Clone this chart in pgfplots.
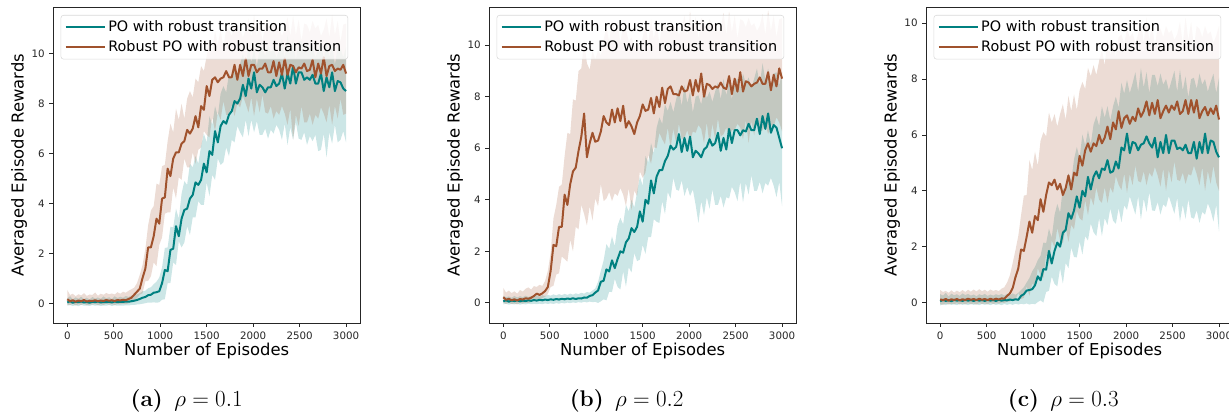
\documentclass[border=0pt]{standalone}
\usepackage{fontspec}
\setsansfont{DejaVu Sans}
\usepackage{pgfplots}
\usepackage{pgfplotstable}
\usepgfplotslibrary{fillbetween}
\pgfplotsset{compat=1.18}

\definecolor{tealc}{RGB}{0,128,128}
\definecolor{sienna}{RGB}{160,82,45}

% columns: episode, teal mean/low/high, sienna mean/low/high
\pgfplotstableread{
x tm tl th om ol oh
0 0.05 -0.08 0.22 0.18 -0.04 0.55
30 0.10 -0.05 0.30 0.10 -0.06 0.35
60 0.04 -0.09 0.18 0.14 0.00 0.40
90 0.08 -0.06 0.26 0.08 -0.07 0.30
120 0.06 -0.10 0.20 0.13 -0.02 0.38
150 0.09 -0.04 0.28 0.10 -0.05 0.33
180 0.05 -0.08 0.19 0.15 0.01 0.42
210 0.07 -0.07 0.24 0.09 -0.06 0.31
240 0.04 -0.09 0.17 0.12 -0.03 0.37
270 0.08 -0.05 0.27 0.11 -0.04 0.35
300 0.06 -0.08 0.21 0.14 -0.01 0.45
330 0.09 -0.06 0.25 0.10 -0.06 0.32
360 0.05 -0.09 0.20 0.13 -0.02 0.40
390 0.07 -0.07 0.29 0.11 -0.05 0.36
420 0.06 -0.08 0.22 0.15 0.00 0.43
450 0.08 -0.05 0.26 0.12 -0.04 0.38
480 0.05 -0.09 0.19 0.14 -0.02 0.41
510 0.09 -0.06 0.30 0.11 -0.05 0.37
540 0.06 -0.08 0.23 0.15 -0.01 0.46
570 0.08 -0.07 0.28 0.13 -0.03 0.40
600 0.07 -0.08 0.24 0.16 0.00 0.48
630 0.09 -0.06 0.31 0.14 -0.02 0.44
660 0.08 -0.07 0.27 0.19 0.02 0.52
690 0.10 -0.05 0.33 0.24 0.06 0.58
720 0.12 -0.05 0.30 0.36 0.14 0.64
750 0.15 -0.03 0.38 0.48 0.22 0.82
780 0.19 -0.02 0.42 0.60 0.36 1.15
810 0.24 0.00 0.50 1.03 0.42 1.55
840 0.27 0.02 0.52 1.40 0.90 2.18
870 0.34 0.05 0.62 2.25 0.91 3.13
900 0.36 0.04 0.66 2.25 1.10 3.73
930 0.44 0.06 0.78 2.70 1.65 3.90
960 0.46 0.04 0.88 3.40 1.50 4.80
990 0.50 0.06 1.05 3.20 2.35 4.75
1020 0.82 0.16 1.45 4.20 2.65 5.50
1050 1.35 0.18 2.23 4.25 3.60 5.55
1080 1.30 0.82 2.25 5.40 3.65 6.50
1110 2.15 0.83 3.08 5.10 3.65 7.20
1140 2.20 1.65 3.05 5.80 4.65 6.85
1170 3.10 1.55 3.80 6.05 4.20 7.80
1200 2.70 2.50 3.40 6.05 5.05 7.35
1230 3.40 2.25 4.40 6.40 4.95 8.00
1260 3.75 2.45 4.90 6.50 5.80 7.40
1290 3.80 3.10 4.75 6.95 5.45 8.20
1320 4.20 2.75 5.60 6.80 5.45 8.50
1350 4.35 3.45 5.45 7.00 6.05 8.25
1380 4.85 3.45 5.90 7.50 5.60 9.00
1410 4.75 4.10 5.60 7.05 6.15 8.85
1440 4.95 3.95 6.30 7.90 6.25 9.50
1470 5.60 3.95 6.80 7.75 6.90 9.30
1500 5.25 4.85 6.45 8.70 6.75 9.90
1530 6.10 4.30 7.50 8.30 6.65 10.50
1560 5.95 5.15 7.15 8.95 7.45 10.05
1590 6.90 4.95 7.90 9.05 6.90 10.90
1620 6.45 5.80 7.50 8.85 7.65 10.35
1650 7.10 5.55 8.40 9.00 7.35 10.95
1680 7.30 5.65 8.70 9.05 8.10 10.20
1710 7.20 6.25 8.45 9.30 7.55 11.00
1740 7.55 5.90 9.20 9.05 7.55 10.95
1770 7.70 6.55 8.95 9.05 7.95 10.70
1800 8.10 6.45 9.40 9.55 7.50 11.15
1830 8.00 7.10 9.10 8.95 8.00 10.85
1860 8.20 6.85 9.60 9.55 7.85 11.00
1890 8.75 6.65 10.00 9.10 8.30 10.65
1920 8.30 7.35 9.45 9.80 8.00 10.95
1950 9.00 6.70 10.30 9.10 7.65 11.40
1980 8.60 7.35 9.65 9.55 8.25 10.65
2010 9.25 6.85 10.20 9.55 7.50 11.55
2040 8.45 7.30 9.50 9.25 8.20 10.70
2070 8.75 6.75 10.20 9.40 7.65 11.30
2100 8.65 6.75 10.20 9.40 8.35 10.50
2130 8.45 7.00 9.90 9.60 7.65 11.15
2160 8.65 6.60 10.35 9.25 7.60 11.15
2190 8.65 6.95 10.05 9.25 7.90 10.85
2220 8.95 6.80 10.20 9.70 7.40 11.30
2250 8.70 7.15 9.85 9.10 7.70 11.00
2280 8.80 6.95 10.15 9.65 7.55 11.05
2310 9.20 6.55 10.60 9.15 7.90 10.70
2340 8.60 7.20 9.85 9.80 7.60 11.00
2370 9.20 6.35 10.75 9.15 7.15 11.45
2400 8.80 7.05 10.00 9.55 7.80 10.70
2430 9.50 6.55 10.60 9.50 6.55 11.50
2460 8.80 7.25 9.75 9.25 7.55 10.75
2490 9.25 6.60 10.50 9.45 7.10 11.35
2520 9.25 6.55 10.50 9.40 7.90 10.50
2550 8.95 6.85 10.10 9.60 7.25 11.20
2580 9.05 6.35 10.55 9.30 7.25 11.15
2610 8.95 6.70 10.15 9.35 7.60 10.85
2640 9.15 6.50 10.30 9.75 7.15 11.30
2670 8.80 6.75 9.85 9.05 7.55 11.00
2700 8.80 6.10 10.15 9.60 7.40 11.15
2730 9.20 6.15 10.50 9.20 7.85 10.70
2760 8.50 6.80 9.75 9.85 7.60 10.95
2790 9.05 5.85 10.55 9.10 7.25 11.40
2820 8.65 6.85 9.85 9.50 7.95 10.65
2850 9.25 6.40 10.40 9.55 7.15 11.55
2880 8.50 7.15 9.55 9.30 7.90 10.75
2910 8.90 6.45 10.25 9.40 7.40 11.30
2940 8.85 6.55 10.20 9.35 8.20 10.45
2970 8.60 6.90 9.85 9.55 7.55 11.15
3000 8.50 6.45 10.25 9.20 7.60 11.20
}\dataA

\pgfplotstableread{
x tm tl th om ol oh
0 0.06 -0.06 0.28 0.22 0.02 0.58
30 0.10 -0.03 0.22 0.12 -0.04 0.40
60 0.05 -0.07 0.25 0.16 0.01 0.48
90 0.09 -0.04 0.20 0.10 -0.05 0.38
120 0.07 -0.06 0.27 0.14 -0.02 0.45
150 0.10 -0.03 0.21 0.09 -0.06 0.36
180 0.06 -0.07 0.26 0.15 0.00 0.50
210 0.09 -0.04 0.22 0.13 -0.03 0.44
240 0.07 -0.06 0.28 0.18 0.02 0.55
270 0.10 -0.03 0.23 0.16 -0.01 0.60
300 0.08 -0.05 0.27 0.20 0.04 0.52
330 0.11 -0.04 0.24 0.27 0.08 0.65
360 0.09 -0.05 0.29 0.36 0.15 0.62
390 0.12 -0.03 0.25 0.31 0.12 0.70
420 0.10 -0.05 0.30 0.37 0.18 0.66
450 0.13 -0.02 0.27 0.46 0.24 0.85
480 0.11 -0.04 0.31 0.62 0.35 1.25
510 0.14 -0.02 0.28 1.25 0.62 1.95
540 0.12 -0.04 0.33 2.25 0.66 3.28
570 0.15 -0.01 0.29 2.20 1.10 3.80
600 0.13 -0.03 0.34 2.95 1.15 4.50
630 0.16 0.00 0.30 2.95 1.80 4.60
660 0.14 -0.02 0.35 4.20 1.70 5.70
690 0.17 0.01 0.31 3.80 1.60 6.60
720 0.15 -0.01 0.36 4.60 2.45 6.55
750 0.18 0.02 0.32 5.10 2.00 7.90
780 0.15 0.00 0.37 5.25 2.95 7.85
810 0.18 0.03 0.34 5.90 2.85 9.00
840 0.17 0.01 0.39 6.45 3.80 9.10
870 0.21 0.04 0.36 7.35 3.45 10.20
900 0.20 0.02 0.42 5.65 3.00 9.30
930 0.27 0.05 0.40 6.20 3.75 9.05
960 0.30 0.03 0.48 6.60 3.20 9.80
990 0.40 0.04 0.56 6.25 4.05 9.45
1020 0.48 0.00 0.82 6.30 3.75 9.80
1050 0.82 0.06 1.25 6.65 4.60 9.60
1080 0.86 0.14 1.65 7.25 3.95 10.20
1110 1.30 0.10 2.28 7.00 4.05 10.70
1140 1.22 0.43 2.10 6.90 4.30 10.15
1170 1.65 0.42 2.58 7.50 3.95 10.95
1200 1.35 0.93 2.20 7.00 4.25 10.45
1230 1.70 0.62 3.00 7.55 4.15 10.90
1260 2.00 0.52 3.30 7.05 4.45 10.10
1290 1.95 1.22 3.05 7.65 4.20 10.75
1320 2.35 0.63 3.80 6.80 3.75 10.60
1350 2.50 1.38 3.55 7.05 4.45 10.15
1380 2.90 1.18 4.00 6.85 3.60 10.30
1410 2.75 1.93 3.70 6.55 4.35 9.95
1440 2.95 1.62 4.30 7.00 4.15 10.20
1470 3.55 1.68 4.90 7.25 5.10 9.90
1500 3.15 2.25 4.55 7.70 4.85 10.30
1530 4.00 1.90 5.70 7.45 5.05 10.80
1560 3.85 2.55 5.45 7.50 5.75 10.05
1590 4.75 2.55 6.20 7.95 5.40 11.00
1620 4.25 3.25 5.80 7.35 6.05 10.25
1650 4.90 3.15 6.80 8.00 6.00 10.90
1680 5.15 3.10 7.20 7.60 6.60 10.05
1710 5.15 3.95 6.95 8.35 6.35 10.85
1740 5.50 3.45 7.70 7.75 6.15 10.80
1770 5.70 4.30 7.45 8.30 6.80 10.55
1800 6.10 4.05 7.80 8.40 6.00 10.95
1830 5.95 4.85 7.40 8.10 6.75 10.70
1860 6.05 4.40 7.90 8.10 6.20 10.70
1890 6.55 4.35 8.30 8.05 6.95 10.40
1920 5.85 4.75 7.65 8.40 6.35 10.65
1950 6.40 4.15 8.45 8.20 6.40 11.15
1980 5.90 4.50 7.75 8.25 6.70 10.35
2010 6.45 4.15 8.20 8.65 6.30 11.30
2040 5.65 4.40 7.40 8.05 6.65 10.45
2070 5.90 3.80 8.00 8.65 6.60 11.10
2100 5.80 3.10 8.05 8.20 6.90 10.25
2130 5.65 3.95 7.70 8.90 6.75 11.05
2160 5.95 3.40 8.30 8.00 6.20 10.95
2190 6.05 4.10 7.95 8.50 7.00 10.65
2220 6.35 3.65 8.20 8.45 6.10 11.00
2250 6.10 4.40 7.80 8.30 6.95 10.80
2280 6.20 3.80 8.20 8.40 6.35 10.85
2310 6.60 3.80 8.55 8.35 7.15 10.50
2340 5.90 4.15 7.90 8.55 6.45 10.70
2370 6.40 3.70 8.70 8.35 6.55 11.25
2400 5.95 4.10 8.05 8.30 6.80 10.40
2430 6.75 4.05 8.60 8.80 6.40 11.30
2460 6.20 4.50 7.90 8.10 6.70 10.50
2490 6.70 4.30 8.60 8.70 6.70 11.15
2520 6.70 3.95 8.70 8.20 6.95 10.25
2550 6.50 4.70 8.35 8.95 6.80 11.00
2580 6.70 3.90 8.90 8.20 6.35 10.95
2610 6.65 4.65 8.50 8.60 7.10 10.70
2640 6.95 4.20 8.75 8.55 6.20 11.05
2670 6.70 4.95 8.35 8.40 7.05 10.75
2700 6.70 4.35 8.70 8.50 6.50 10.85
2730 7.15 4.35 9.10 8.55 7.30 10.55
2760 6.55 4.70 8.45 8.75 6.60 10.75
2790 7.25 4.25 9.30 8.50 6.70 11.20
2820 6.75 4.65 8.65 8.50 6.95 10.40
2850 7.35 4.55 9.10 8.95 6.55 11.35
2880 6.60 4.85 8.35 8.25 6.90 10.55
2910 6.90 4.55 8.90 8.85 6.85 11.15
2940 6.80 4.10 8.95 8.40 7.20 10.30
2970 6.40 4.70 8.45 9.10 7.00 11.00
3000 6.00 3.75 8.95 8.70 6.65 11.05
}\dataB

\pgfplotstableread{
x tm tl th om ol oh
0 0.05 -0.10 0.30 0.12 -0.05 0.45
30 0.10 -0.06 0.25 0.08 -0.08 0.38
60 0.06 -0.09 0.35 0.13 -0.03 0.42
90 0.09 -0.05 0.22 0.07 -0.07 0.35
120 0.05 -0.08 0.32 0.12 -0.04 0.44
150 0.10 -0.06 0.26 0.09 -0.06 0.36
180 0.07 -0.09 0.30 0.13 -0.02 0.43
210 0.09 -0.05 0.24 0.08 -0.07 0.37
240 0.06 -0.08 0.33 0.12 -0.03 0.45
270 0.10 -0.06 0.27 0.09 -0.06 0.38
300 0.07 -0.09 0.31 0.14 -0.02 0.46
330 0.09 -0.05 0.25 0.10 -0.06 0.39
360 0.06 -0.08 0.29 0.13 -0.03 0.47
390 0.10 -0.06 0.23 0.09 -0.07 0.40
420 0.07 -0.09 0.30 0.14 -0.02 0.48
450 0.09 -0.05 0.26 0.10 -0.05 0.41
480 0.06 -0.08 0.31 0.13 -0.03 0.46
510 0.10 -0.06 0.24 0.09 -0.06 0.39
540 0.07 -0.09 0.29 0.14 -0.01 0.47
570 0.09 -0.05 0.25 0.10 -0.05 0.42
600 0.06 -0.08 0.30 0.14 -0.02 0.45
630 0.10 -0.06 0.26 0.11 -0.04 0.41
660 0.07 -0.09 0.31 0.15 0.00 0.50
690 0.09 -0.05 0.25 0.14 -0.01 0.55
720 0.08 -0.08 0.32 0.24 0.03 0.72
750 0.11 -0.05 0.27 0.33 0.04 0.98
780 0.09 -0.08 0.33 0.52 0.10 1.42
810 0.12 -0.04 0.28 0.91 0.10 1.88
840 0.10 -0.07 0.35 1.22 0.35 2.38
870 0.24 -0.04 0.45 1.90 0.13 3.13
900 0.30 -0.06 0.55 1.85 0.17 3.83
930 0.43 -0.03 0.72 2.35 0.58 3.85
960 0.45 -0.07 0.88 2.90 0.25 5.10
990 0.48 -0.04 1.12 2.50 0.68 4.75
1020 0.62 -0.06 1.28 3.10 0.58 5.40
1050 0.94 0.02 1.52 2.95 1.23 4.90
1080 0.80 0.08 1.68 3.70 0.98 5.80
1110 1.20 0.00 2.15 3.25 0.88 6.10
1140 1.18 0.38 2.13 3.85 1.72 5.95
1170 1.85 0.42 2.65 4.30 1.33 6.80
1200 1.40 0.93 2.33 4.20 2.22 6.45
1230 1.85 0.67 3.13 4.40 1.98 6.75
1260 2.15 0.58 3.53 4.05 2.67 6.30
1290 2.00 1.22 3.22 4.25 2.23 6.75
1320 2.50 0.68 4.13 3.85 2.12 7.10
1350 2.60 1.42 3.92 4.10 2.68 6.55
1380 3.20 1.23 4.63 4.55 2.17 7.40
1410 3.00 1.97 4.37 4.05 2.78 6.85
1440 3.30 1.63 5.13 4.65 2.62 7.45
1470 3.80 1.62 5.57 4.55 3.28 6.90
1500 3.40 2.18 5.18 5.25 3.02 7.60
1530 4.00 1.72 6.02 4.90 2.93 7.90
1560 3.80 2.38 5.63 5.45 3.67 7.65
1590 4.50 2.22 6.17 5.70 3.13 8.40
1620 4.05 2.83 5.68 5.40 3.77 8.10
1650 4.50 2.52 6.37 5.70 3.48 8.50
1680 4.70 2.38 6.68 5.60 4.12 8.15
1710 4.45 3.02 6.32 6.00 3.68 8.65
1740 4.80 2.38 7.03 5.70 3.57 9.05
1770 4.75 3.02 6.62 5.90 4.13 8.50
1800 5.10 2.78 7.03 6.30 3.57 9.40
1830 4.65 3.37 6.52 5.85 4.13 8.85
1860 4.70 2.93 7.03 6.45 3.92 9.40
1890 5.05 2.82 7.37 6.20 4.53 8.80
1920 4.80 3.38 6.98 6.85 4.22 9.50
1950 5.55 2.87 7.87 6.25 4.03 9.60
1980 5.45 3.48 7.48 6.60 4.62 9.25
2010 6.05 3.32 7.97 6.70 3.93 9.80
2040 5.35 3.80 7.50 6.40 4.60 9.50
2070 5.75 3.48 7.85 6.65 4.20 9.65
2100 5.70 3.15 8.25 6.50 4.90 9.30
2130 5.45 3.80 7.55 6.95 4.35 9.60
2160 5.65 2.97 8.40 6.65 4.30 10.05
2190 5.70 3.72 7.70 6.85 4.70 9.30
2220 5.95 3.25 8.25 7.20 4.20 10.20
2250 5.70 3.95 7.50 6.70 4.65 9.40
2280 5.55 3.30 8.15 7.15 4.50 10.00
2310 5.90 3.28 8.15 6.75 4.85 9.15
2340 5.20 3.60 7.75 7.25 4.55 9.90
2370 5.75 3.15 8.20 6.60 4.15 9.80
2400 5.35 3.52 7.80 6.85 4.80 9.50
2430 6.00 3.42 8.00 7.05 4.00 9.90
2460 5.35 3.80 7.60 6.80 4.75 9.65
2490 5.80 3.50 7.95 7.05 4.30 9.75
2520 5.80 3.18 8.30 6.90 5.05 9.40
2550 5.50 3.75 7.55 7.20 4.40 9.60
2580 5.55 2.90 8.35 6.75 4.35 10.05
2610 5.45 3.50 7.60 6.85 4.65 9.25
2640 5.65 3.00 8.10 7.25 4.25 10.20
2670 5.35 3.70 7.35 6.75 4.60 9.40
2700 5.35 3.05 8.00 7.25 4.55 10.05
2730 5.75 3.00 8.05 6.80 4.90 9.15
2760 5.15 3.30 7.65 7.25 4.60 9.90
2790 5.75 2.85 8.20 6.60 4.20 9.80
2820 5.35 3.25 7.80 6.85 4.85 9.50
2850 6.05 3.15 8.00 7.00 4.00 9.90
2880 5.35 3.55 7.55 6.70 4.70 9.60
2910 5.80 3.30 7.90 6.95 4.25 9.70
2940 5.75 2.90 8.20 6.75 4.90 9.30
2970 5.40 3.50 7.50 7.05 4.30 9.55
3000 5.20 2.55 8.05 6.55 4.00 9.90
}\dataC

\pgfplotsset{
  rl/.style={
    scale only axis, width=230pt, height=236.8pt,
    anchor=south west,
    xmin=-150, xmax=3150,
    xtick={0,500,1000,1500,2000,2500,3000},
    ytick={0,2,4,6,8,10},
    scaled ticks=false,
    tick align=outside, tick pos=left,
    major tick length=3pt,
    every tick/.style={black!85, line width=0.6pt},
    axis line style={black!85, line width=0.7pt},
    /pgf/number format/assume math mode=true,
    /pgf/number format/1000 sep={},
    ticklabel style={font=\sffamily\fontsize{7.7}{9}\selectfont, text=black!85},
    label style={font=\sffamily\fontsize{12.3}{14}\selectfont, text=black},
    xlabel={Number of Episodes},
    ylabel={Averaged Episode Rewards},
    xlabel style={at={(axis description cs:0.5,0)}, anchor=base, yshift=-24.75pt},
    ylabel style={at={(axis description cs:-0.070,0.5)}, anchor=south},
    legend cell align=left,
    legend style={at={(axis description cs:0,1)}, anchor=north west,
      xshift=5.5pt, yshift=-5.8pt, draw=black!15, rounded corners=2pt,
      fill=white, fill opacity=0.8, text opacity=1,
      font=\sffamily\fontsize{10.8}{13}\selectfont,
      inner xsep=3pt, inner ysep=2pt, row sep=1.5pt},
    legend image code/.code={
      \draw[#1, line width=1.5pt, draw opacity=1] (0pt,0pt) -- (23pt,0pt);
      \path (0pt,0pt) -- (29pt,0pt);},
  },
}

\begin{document}
\begin{tikzpicture}

% (a)
\begin{axis}[rl, at={(40pt,68.25pt)}, ymin=-0.77, ymax=11.85]
\addplot[draw=none, name path=tA, forget plot] table[x=x, y=th]{\dataA};
\addplot[draw=none, name path=tB, forget plot] table[x=x, y=tl]{\dataA};
\addplot[fill=tealc, fill opacity=0.2, draw=none, forget plot] fill between[of=tA and tB];
\addplot[draw=none, name path=oA, forget plot] table[x=x, y=oh]{\dataA};
\addplot[draw=none, name path=oB, forget plot] table[x=x, y=ol]{\dataA};
\addplot[fill=sienna, fill opacity=0.2, draw=none, forget plot] fill between[of=oA and oB];
\addplot[tealc, line width=1.5pt, line join=round] table[x=x, y=tm]{\dataA};
\addlegendentry{PO with robust transition}
\addplot[sienna, line width=1.5pt, line join=round] table[x=x, y=om]{\dataA};
\addlegendentry{Robust PO with robust transition}
\end{axis}

% (b)
\begin{axis}[rl, at={(367pt,68.25pt)}, ymin=-0.78, ymax=11.47]
\addplot[draw=none, name path=tA, forget plot] table[x=x, y=th]{\dataB};
\addplot[draw=none, name path=tB, forget plot] table[x=x, y=tl]{\dataB};
\addplot[fill=tealc, fill opacity=0.2, draw=none, forget plot] fill between[of=tA and tB];
\addplot[draw=none, name path=oA, forget plot] table[x=x, y=oh]{\dataB};
\addplot[draw=none, name path=oB, forget plot] table[x=x, y=ol]{\dataB};
\addplot[fill=sienna, fill opacity=0.2, draw=none, forget plot] fill between[of=oA and oB];
\addplot[tealc, line width=1.5pt, line join=round] table[x=x, y=tm]{\dataB};
\addlegendentry{PO with robust transition}
\addplot[sienna, line width=1.5pt, line join=round] table[x=x, y=om]{\dataB};
\addlegendentry{Robust PO with robust transition}
\end{axis}

% (c)
\begin{axis}[rl, at={(694.7pt,68.25pt)}, ymin=-0.73, ymax=10.57]
\addplot[draw=none, name path=tA, forget plot] table[x=x, y=th]{\dataC};
\addplot[draw=none, name path=tB, forget plot] table[x=x, y=tl]{\dataC};
\addplot[fill=tealc, fill opacity=0.2, draw=none, forget plot] fill between[of=tA and tB];
\addplot[draw=none, name path=oA, forget plot] table[x=x, y=oh]{\dataC};
\addplot[draw=none, name path=oB, forget plot] table[x=x, y=ol]{\dataC};
\addplot[fill=sienna, fill opacity=0.2, draw=none, forget plot] fill between[of=oA and oB];
\addplot[tealc, line width=1.5pt, line join=round] table[x=x, y=tm]{\dataC};
\addlegendentry{PO with robust transition}
\addplot[sienna, line width=1.5pt, line join=round] table[x=x, y=om]{\dataC};
\addlegendentry{Robust PO with robust transition}
\end{axis}

\node[anchor=base, font=\fontsize{17}{20}\selectfont] at (140pt,5.25pt) {\textbf{(a)}\enspace$\rho = 0.1$};
\node[anchor=base, font=\fontsize{17}{20}\selectfont] at (470pt,5.25pt) {\textbf{(b)}\enspace$\rho = 0.2$};
\node[anchor=base, font=\fontsize{17}{20}\selectfont] at (797.5pt,5.25pt) {\textbf{(c)}\enspace$\rho = 0.3$};

\pgfresetboundingbox
\path[use as bounding box] (0,0) rectangle (921.75pt,310.5pt);
\end{tikzpicture}
\end{document}
